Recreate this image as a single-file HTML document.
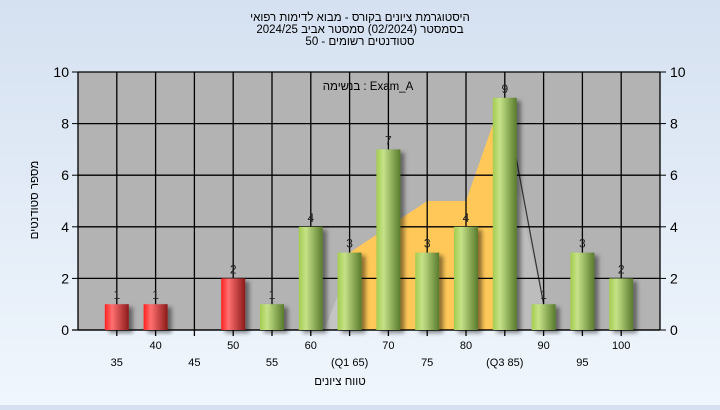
<!DOCTYPE html>
<html><head><meta charset="utf-8"><style>
body{margin:0;width:720px;height:405px;overflow:hidden;background:linear-gradient(#d5e1f1,#f0f6fd);font-family:"Liberation Sans",sans-serif}
</style></head><body>
<svg width="720" height="405" font-family="Liberation Sans, sans-serif">
<defs>
<linearGradient id="gG" x1="0" x2="1"><stop offset="0" stop-color="#a4cc50"/><stop offset="0.3" stop-color="#c6e288"/><stop offset="1" stop-color="#587a2c"/></linearGradient>
<linearGradient id="rG" x1="0" x2="1"><stop offset="0" stop-color="#ff2020"/><stop offset="0.3" stop-color="#ff7070"/><stop offset="1" stop-color="#8c1a1a"/></linearGradient>
<filter id="sh" x="-30%" y="-10%" width="170%" height="130%"><feDropShadow dx="4" dy="3" stdDeviation="2" flood-color="#000" flood-opacity="0.45"/></filter>
</defs>
<text x="360" y="21" text-anchor="middle" font-size="11.5">היסטוגרמת ציונים בקורס - מבוא לדימות רפואי</text>
<text x="360" y="33" text-anchor="middle" font-size="11.5">בסמסטר  (02/2024)  סמסטר אביב 2024/25</text>
<text x="360" y="45" text-anchor="middle" font-size="11.5">סטודנטים רשומים - 50</text>
<rect x="78" y="72" width="582" height="258" fill="#b3b3b3"/>
<g id="shapes"></g>
<g id="grid"></g>
<g id="bars"></g>
<text x="368" y="90" text-anchor="middle" font-size="11.5">בנשימה : Exam_A</text>
<text x="0" y="0" transform="translate(38,200) rotate(-90)" text-anchor="middle" font-size="11.5">מספר סטודנטים</text>
<text x="340" y="385" text-anchor="middle" font-size="11.5">טווח ציונים</text>
</svg>
<script>
const categories=["35","40","45","50","55","60","(Q1 65)","70","75","80","(Q3 85)","90","95","100"];
const counts=[1,1,0,2,1,4,3,7,3,4,9,1,3,2];
const colors=["r","r","r","r","g","g","g","g","g","g","g","g","g","g"];
const yTicks=[0,2,4,6,8,10];
const areaVals=[3,5,5,8];
const NS="http://www.w3.org/2000/svg";
const X0=78,W=582,Y0=330,H=258,ymax=10,slot=W/15;
const xs=i=>X0+slot*(i+1);
const ys=v=>Y0-v/ymax*H;
function mk(t,a,p){const e=document.createElementNS(NS,t);for(const k in a)e.setAttribute(k,a[k]);p.appendChild(e);return e;}
const sh=document.getElementById('shapes'),gr=document.getElementById('grid'),bg=document.getElementById('bars');
// decorative area shapes
let p=mk('polygon',{points:`${xs(5.35)},${Y0} ${xs(6)},${ys(2.5)} ${xs(6)},${Y0}`,fill:'#c4c4c4'},sh);

p=mk('polygon',{points:`${xs(6)},${Y0} ${xs(6)},${ys(areaVals[0])} ${xs(8)},${ys(areaVals[1])} ${xs(9)},${ys(areaVals[2])} ${xs(9.7)},${ys(areaVals[3])} ${xs(10)},${ys(9)} ${xs(10)},${Y0}`,fill:'#ffc858'},sh);

p=mk('polygon',{points:`${xs(10)},${ys(7.5)} ${xs(11)},${ys(1)} ${xs(11)},${Y0} ${xs(10)},${Y0}`,fill:'#bdbdbd'},sh);

p=mk('line',{x1:xs(10.25),y1:ys(7),x2:xs(11),y2:ys(1),stroke:'#333','stroke-width':1.2},sh);

// grid
yTicks.forEach(v=>{
 const l=mk('line',{x1:X0,x2:X0+W,y1:ys(v),y2:ys(v),stroke:'#000','stroke-width':1.3},gr);
 
 mk('line',{x1:X0-6,x2:X0,y1:ys(v),y2:ys(v),stroke:'#000'},gr);
 mk('line',{x1:X0+W,x2:X0+W+6,y1:ys(v),y2:ys(v),stroke:'#000'},gr);
 let t=mk('text',{x:X0-9,y:ys(v)+5,'text-anchor':'end','font-size':14},gr);t.textContent=v;
 
 t=mk('text',{x:X0+W+10,y:ys(v)+5,'font-size':14},gr);t.textContent=v;
 
});
mk('line',{x1:X0,x2:X0,y1:ys(10),y2:Y0,stroke:'#000','stroke-width':1.3},gr);
mk('line',{x1:X0+W,x2:X0+W,y1:ys(10),y2:Y0,stroke:'#000','stroke-width':1.3},gr);
categories.forEach((c,i)=>{
 const l=mk('line',{x1:xs(i),x2:xs(i),y1:ys(10),y2:Y0+6,stroke:'#000','stroke-width':1.3},gr);
 
 const t=mk('text',{x:xs(i),y:i%2?349:366,'text-anchor':'middle','font-size':11},gr);t.textContent=c;
 
});
mk('line',{x1:X0-6,x2:X0+W,y1:Y0,y2:Y0,stroke:'#000','stroke-width':1.3},gr);
// bars
counts.forEach((v,i)=>{
 if(v<=0)return;
 const b=mk('rect',{x:xs(i)-12,y:ys(v),width:24,height:Y0-ys(v),fill:colors[i]=='r'?'url(#rG)':'url(#gG)',filter:'url(#sh)'},bg);
 
 const t=mk('text',{x:xs(i),y:ys(v)-5,'text-anchor':'middle','font-size':12,fill:'#222'},bg);t.textContent=v;
 
});
</script>
</body></html>
